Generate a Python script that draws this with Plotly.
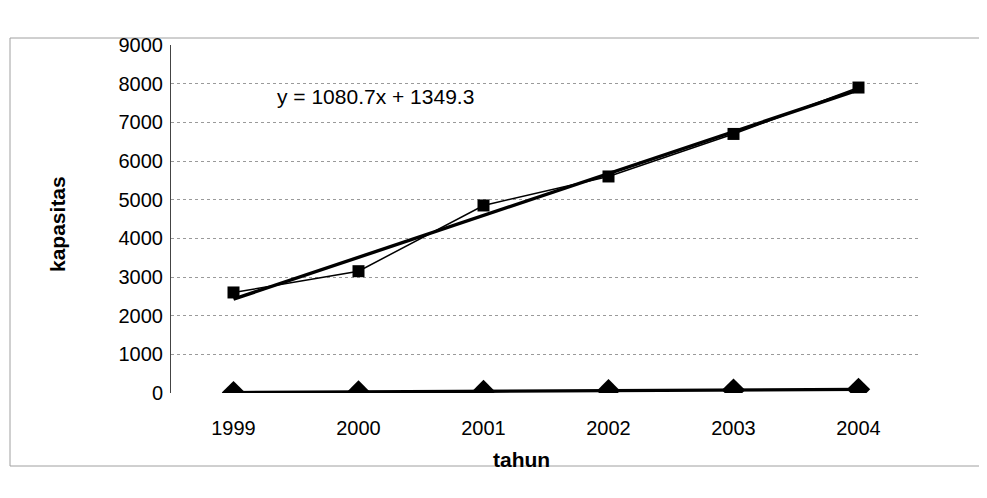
import numpy as np
import plotly.graph_objects as go

# ---- data ----
years = ["1999", "2000", "2001", "2002", "2003", "2004"]
kapasitas = [2600, 3150, 4850, 5600, 6700, 7900]
series_low = [10, 25, 40, 60, 75, 95]
y_ticks = [0, 1000, 2000, 3000, 4000, 5000, 6000, 7000, 8000, 9000]
equation_text = "y = 1080.7x + 1349.3"
x_title = "tahun"
y_title = "kapasitas"

# linear trend (Excel style, x = 1..n)
xi = np.arange(1, len(years) + 1)
slope, intercept = np.polyfit(xi, kapasitas, 1)
trend = slope * xi + intercept

FONT = "Arial, Liberation Sans, Helvetica, sans-serif"

fig = go.Figure()
fig.add_trace(go.Scatter(
    x=years, y=kapasitas, mode="lines+markers",
    line=dict(color="black", width=1.5),
    marker=dict(symbol="square", size=12, color="black"),
    showlegend=False))
fig.add_trace(go.Scatter(
    x=years, y=trend, mode="lines",
    line=dict(color="black", width=3.4),
    showlegend=False))
fig.add_trace(go.Scatter(
    x=years, y=series_low, mode="lines+markers",
    line=dict(color="black", width=3.4),
    marker=dict(symbol="diamond", size=18, color="black"),
    showlegend=False))

# page offset (default body margin of the html page)
OFF = 8
W, H = 987 - OFF, 498 - OFF
L, R, T, B = 171 - OFF, 921 - OFF, 45 - OFF, 393 - OFF

def px(x):
    return (x - OFF - L) / (R - L)

def py(y):
    return (B - (y - OFF)) / (B - T)

fig.update_layout(
    width=W, height=H,
    margin=dict(l=L, r=W - R, t=T, b=H - B, pad=0),
    paper_bgcolor="white", plot_bgcolor="white",
    font=dict(family=FONT, color="black", size=20),
    xaxis=dict(
        type="category", range=[-0.5, len(years) - 0.5],
        showgrid=False, showline=False, zeroline=False,
        ticks="outside", ticklen=17, tickcolor="rgba(0,0,0,0)",
        tickfont=dict(size=20, family=FONT),
    ),
    yaxis=dict(
        range=[0, 9000], tickvals=y_ticks,
        showgrid=True, gridcolor="#9a9a9a", griddash="dot", gridwidth=1,
        showline=True, linecolor="#444", linewidth=1,
        zeroline=False, ticks="", ticklabelstandoff=3,
        tickfont=dict(size=20, family=FONT),
    ),
    shapes=[
        dict(type="rect", xref="paper", yref="paper",
             x0=px(10), x1=px(1000), y0=py(466), y1=py(38),
             line=dict(color="#a0a0a0", width=1), fillcolor="rgba(0,0,0,0)",
             layer="below"),
    ],
    annotations=[
        dict(text=equation_text, xref="paper", yref="paper",
             x=px(275), y=py(96), xanchor="left", yanchor="middle",
             showarrow=False, font=dict(size=21, family=FONT)),
        dict(text="<b>" + x_title + "</b>", xref="paper", yref="paper",
             x=px(521), y=py(459), xanchor="center", yanchor="middle",
             showarrow=False, font=dict(size=21, family=FONT)),
        dict(text="<b>" + y_title + "</b>", xref="paper", yref="paper",
             x=px(57), y=py(224), xanchor="center", yanchor="middle",
             textangle=-90, showarrow=False, font=dict(size=21, family=FONT)),
    ],
)

fig.write_html("out.html")
